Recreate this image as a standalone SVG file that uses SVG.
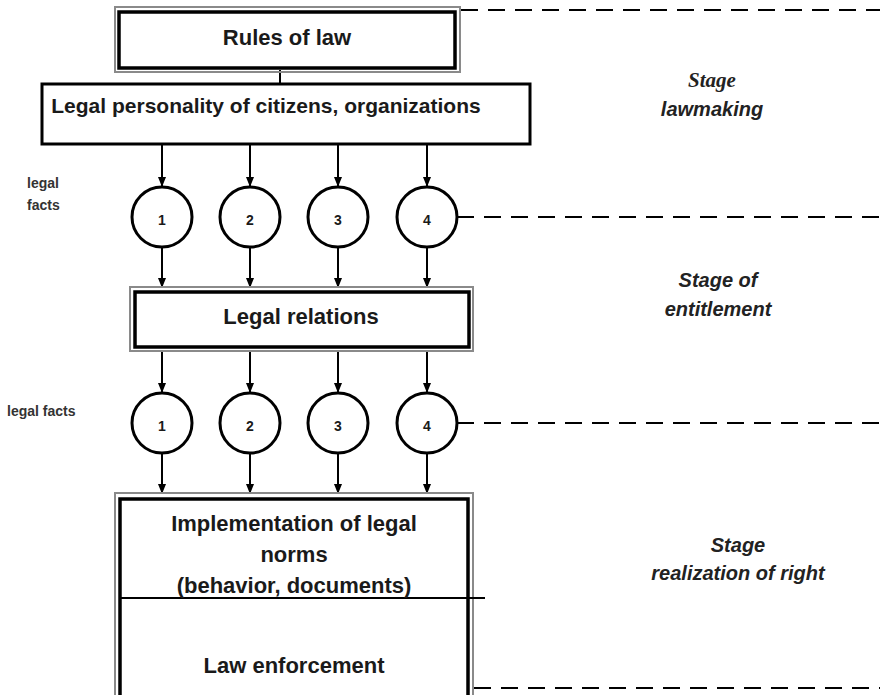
<svg xmlns="http://www.w3.org/2000/svg" width="890" height="695" viewBox="0 0 890 695">
<style>
.t{font-family:"Liberation Sans",Arial,sans-serif;font-weight:bold;fill:#1a1a1a;text-anchor:middle}
.lbl{font-family:"Liberation Sans",Arial,sans-serif;font-weight:bold;fill:#333;font-size:14px}
.st{font-family:"Liberation Sans",Arial,sans-serif;font-weight:bold;font-style:italic;fill:#222;font-size:20px;text-anchor:middle}
.sts{font-family:"Liberation Serif","Times New Roman",serif;font-weight:bold;font-style:italic;fill:#222;font-size:21px;text-anchor:middle}
.og{fill:none;stroke:#8a8a8a;stroke-width:2}
.ib{fill:none;stroke:#000;stroke-width:3.5}
.box{fill:#fff;stroke:#000;stroke-width:3}
.c{fill:#fff;stroke:#000;stroke-width:3}
.n{font-family:"Liberation Sans",Arial,sans-serif;font-weight:bold;font-size:14px;fill:#1a1a1a;text-anchor:middle}
.a{stroke:#000;stroke-width:2;fill:none;marker-end:url(#ah)}
.d{stroke:#000;stroke-width:2;fill:none;stroke-dasharray:17 10}
.s{stroke:#000;stroke-width:2;fill:none}
</style>
<defs>
<marker id="ah" markerUnits="userSpaceOnUse" markerWidth="10" markerHeight="10" viewBox="0 0 10 10" refX="10" refY="5" orient="auto">
<path d="M0,1 L10,5 L0,9 Z" fill="#000"/>
</marker>
</defs>
<rect width="890" height="695" fill="#fff"/>

<g id="connectors">
<line class="s" x1="280" y1="70" x2="280" y2="84"/>
<line class="a" x1="162" y1="145" x2="162" y2="187"/>
<line class="a" x1="250" y1="145" x2="250" y2="187"/>
<line class="a" x1="338" y1="145" x2="338" y2="187"/>
<line class="a" x1="427" y1="145" x2="427" y2="187"/>
<line class="a" x1="162" y1="247" x2="162" y2="288"/>
<line class="a" x1="250" y1="247" x2="250" y2="288"/>
<line class="a" x1="338" y1="247" x2="338" y2="288"/>
<line class="a" x1="427" y1="247" x2="427" y2="288"/>
<line class="a" x1="162" y1="351" x2="162" y2="393"/>
<line class="a" x1="250" y1="351" x2="250" y2="393"/>
<line class="a" x1="338" y1="351" x2="338" y2="393"/>
<line class="a" x1="427" y1="351" x2="427" y2="393"/>
<line class="a" x1="162" y1="453" x2="162" y2="494"/>
<line class="a" x1="250" y1="453" x2="250" y2="494"/>
<line class="a" x1="338" y1="453" x2="338" y2="494"/>
<line class="a" x1="427" y1="453" x2="427" y2="494"/>
<line class="d" x1="461" y1="10" x2="880" y2="10"/>
<line class="d" x1="457" y1="217" x2="880" y2="217"/>
<line class="d" x1="457" y1="423" x2="880" y2="423"/>
<line class="d" x1="474" y1="688" x2="880" y2="688"/>
</g>

<g id="rules">
<rect class="og" x="115" y="7" width="345" height="65"/>
<rect class="ib" x="119" y="12" width="336" height="56" fill="#fff"/>
<text class="t" x="287" y="45" font-size="22">Rules of law</text>
</g>

<g id="personality">
<rect class="box" x="42" y="84" width="488" height="60"/>
<text class="t" x="266" y="113" font-size="21">Legal personality of citizens, organizations</text>
</g>

<g id="facts1">
<text class="lbl" x="27" y="188">legal</text>
<text class="lbl" x="27" y="210">facts</text>
<circle class="c" cx="162" cy="217" r="30"/><text class="n" x="162" y="225">1</text>
<circle class="c" cx="250" cy="217" r="30"/><text class="n" x="250" y="225">2</text>
<circle class="c" cx="338" cy="217" r="30"/><text class="n" x="338" y="225">3</text>
<circle class="c" cx="427" cy="217" r="30"/><text class="n" x="427" y="225">4</text>
</g>

<g id="relations">
<rect class="og" x="130" y="287" width="343" height="64"/>
<rect class="ib" x="135" y="292" width="334" height="55" fill="#fff"/>
<text class="t" x="301" y="324" font-size="22">Legal relations</text>
</g>

<g id="facts2">
<text class="lbl" x="7" y="416">legal facts</text>
<circle class="c" cx="162" cy="423" r="30"/><text class="n" x="162" y="431">1</text>
<circle class="c" cx="250" cy="423" r="30"/><text class="n" x="250" y="431">2</text>
<circle class="c" cx="338" cy="423" r="30"/><text class="n" x="338" y="431">3</text>
<circle class="c" cx="427" cy="423" r="30"/><text class="n" x="427" y="431">4</text>
</g>

<g id="implementation">
<rect class="og" x="115" y="493" width="358" height="220"/>
<rect class="ib" x="120" y="499" width="348" height="210" fill="#fff"/>
<line class="s" x1="120" y1="598" x2="485" y2="598"/>
<text class="t" x="294" y="531" font-size="22">Implementation of legal</text>
<text class="t" x="294" y="562" font-size="22">norms</text>
<text class="t" x="294" y="593" font-size="22">(behavior, documents)</text>
<text class="t" x="294" y="673" font-size="22">Law enforcement</text>
</g>

<g id="stages">
<text class="sts" x="712" y="87">Stage</text>
<text class="st" x="712" y="116">lawmaking</text>
<text class="st" x="718" y="287">Stage of</text>
<text class="st" x="718" y="316">entitlement</text>
<text class="st" x="738" y="552">Stage</text>
<text class="st" x="738" y="580">realization of right</text>
</g>
</svg>
